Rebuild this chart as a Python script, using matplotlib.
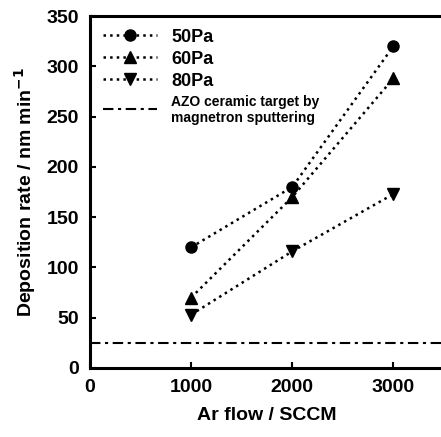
import matplotlib
matplotlib.use("Agg")
import matplotlib.pyplot as plt

plt.rcParams['font.family'] = ['Liberation Sans', 'DejaVu Sans']
plt.rcParams['font.weight'] = 'bold'
plt.rcParams['mathtext.default'] = 'bf'

ar_flow = [1000, 2000, 3000]
rate_50 = [120, 180, 320]
rate_60 = [70, 170, 288]
rate_80 = [53, 116, 173]
azo_rate = 25
labels = ['50Pa', '60Pa', '80Pa']
azo_label = 'AZO ceramic target by\nmagnetron sputtering'

fig = plt.figure(figsize=(4.41, 4.37), dpi=100)
ax = fig.add_axes([90/441, 69/437, 354/441, 352/437])

ax.plot(ar_flow, rate_50, linestyle=':', color='black', lw=1.8, marker='o', ms=8, label=labels[0])
ax.plot(ar_flow, rate_60, linestyle=':', color='black', lw=1.8, marker='^', ms=8, label=labels[1])
ax.plot(ar_flow, rate_80, linestyle=':', color='black', lw=1.8, marker='v', ms=8, label=labels[2])
ax.axhline(azo_rate, color='black', lw=1.5, linestyle=(0, (5, 2.2, 1.5, 2.2)), label=azo_label)

ax.set_xlim(0, 3500)
ax.set_ylim(0, 350)
ax.set_xticks([0, 1000, 2000, 3000])
ax.set_yticks(range(0, 351, 50))
ax.tick_params(direction='in', length=4, width=1.5, labelsize=14, pad=8)
for lab in ax.get_xticklabels() + ax.get_yticklabels():
    lab.set_fontweight('bold')
for s in ['left', 'bottom', 'top']:
    ax.spines[s].set_linewidth(2.2)
ax.spines['right'].set_visible(False)

ax.set_xlabel('Ar flow / SCCM', fontsize=14, fontweight='bold', labelpad=8)
ax.set_ylabel('Deposition rate / nm min$^{-1}$', fontsize=14, fontweight='bold', labelpad=6)

leg = ax.legend(loc='upper left', frameon=False, handlelength=3.0,
                handletextpad=0.8, labelspacing=0.28, borderaxespad=0.3,
                prop={'weight': 'bold', 'size': 13})
for t in leg.get_texts():
    if t.get_text().startswith('AZO'):
        t.set_fontsize(10)

fig.savefig('out.png', dpi=100)
